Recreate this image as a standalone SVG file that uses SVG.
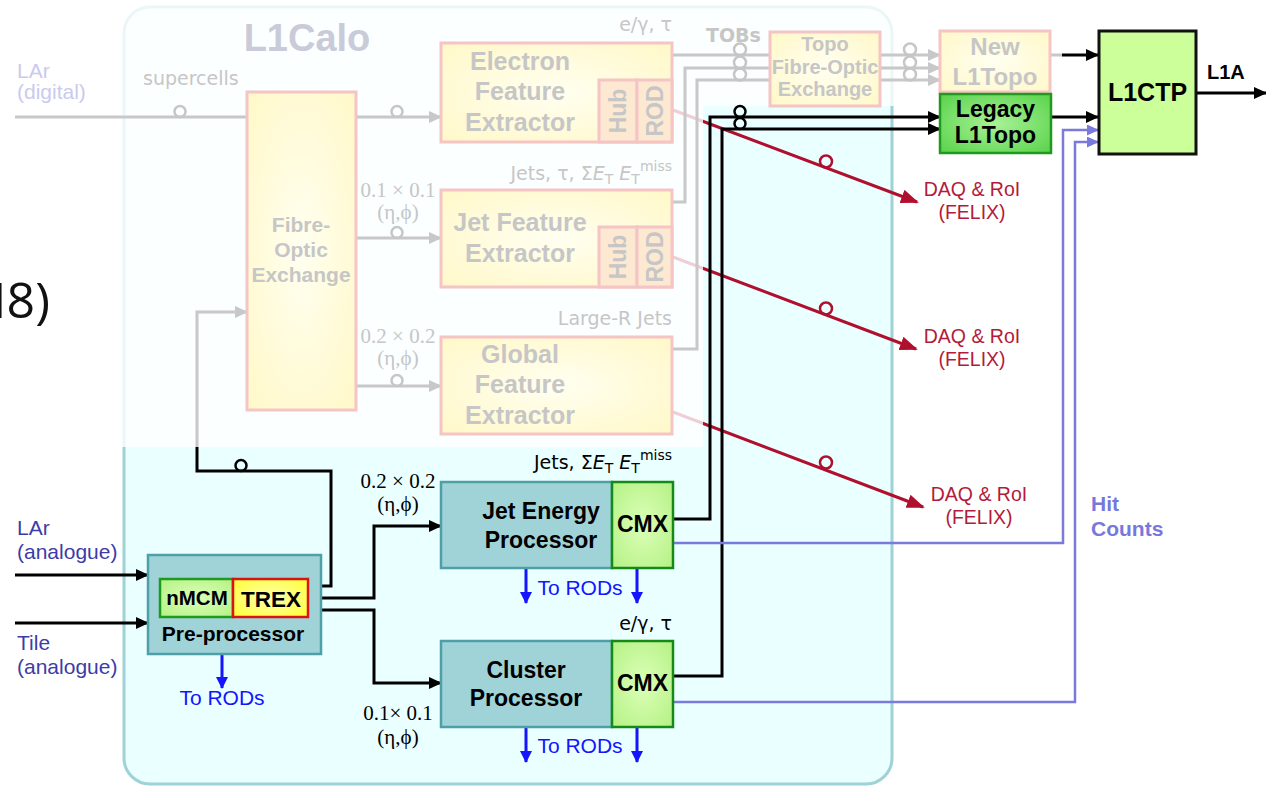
<svg xmlns="http://www.w3.org/2000/svg" width="1266" height="786" viewBox="0 0 1266 786">
<defs>
<style>
.b{font-family:"Liberation Sans",Arial,sans-serif;font-weight:bold}
.r{font-family:"Liberation Sans",Arial,sans-serif}
.d{font-family:"DejaVu Sans",sans-serif}
.s{font-family:"Liberation Serif","Times New Roman",serif}
.ft{fill:#c6c6c6}
.fbox{fill:url(#gy);stroke:#f5c4c4;stroke-width:3}
.fsub{fill:#fde9d2;stroke:#f5c4c4;stroke-width:3}
.gl{fill:none;stroke:#c8c8c8;stroke-width:3}
.gc{fill:none;stroke:#c6c6c6;stroke-width:2.5}
.k{fill:none;stroke:#000;stroke-width:3}
.kc{fill:none;stroke:#000;stroke-width:2.5}
.red{fill:none;stroke:#b0102e;stroke-width:3}
.redc{fill:none;stroke:#b0102e;stroke-width:2.5}
.pur{fill:none;stroke:#7a7adc;stroke-width:2.5}
.blu{fill:none;stroke:#1414ff;stroke-width:3}
.proc{fill:#a0d3d8;stroke:#4e9fa7;stroke-width:2.5}
.cmx{fill:url(#gc);stroke:#168a16;stroke-width:2.5}
.daq{fill:#b31b3b}
</style>
<radialGradient id="gy" cx="0.5" cy="0.5" r="0.7"><stop offset="0" stop-color="#fffff0"/><stop offset="1" stop-color="#fff8c8"/></radialGradient>
<radialGradient id="gc" cx="0.5" cy="0.5" r="0.7"><stop offset="0" stop-color="#dcffb8"/><stop offset="1" stop-color="#b4f184"/></radialGradient>
<radialGradient id="gl" cx="0.5" cy="0.5" r="0.7"><stop offset="0" stop-color="#a8f296"/><stop offset="1" stop-color="#58d24a"/></radialGradient>
<radialGradient id="gt" cx="0.5" cy="0.5" r="0.7"><stop offset="0" stop-color="#ffffb0"/><stop offset="1" stop-color="#ffff33"/></radialGradient>
<marker id="ak" markerUnits="userSpaceOnUse" markerWidth="13" markerHeight="12" refX="12" refY="6" orient="auto"><path d="M0,0 L13,6 L0,12 z" fill="#000"/></marker>
<marker id="ag" markerUnits="userSpaceOnUse" markerWidth="13" markerHeight="12" refX="12" refY="6" orient="auto"><path d="M0,0 L13,6 L0,12 z" fill="#c8c8c8"/></marker>
<marker id="ar" markerUnits="userSpaceOnUse" markerWidth="18" markerHeight="14" refX="16" refY="7" orient="auto"><path d="M0,0 L18,7 L0,14 z" fill="#b0102e"/></marker>
<marker id="ap" markerUnits="userSpaceOnUse" markerWidth="12" markerHeight="11" refX="11" refY="5.5" orient="auto"><path d="M0,0 L12,5.5 L0,11 z" fill="#7a7adc"/></marker>
<marker id="ab" markerUnits="userSpaceOnUse" markerWidth="12" markerHeight="12" refX="11" refY="6" orient="auto"><path d="M0,0 L12,6 L0,12 z" fill="#1414ff"/></marker>
</defs>

<text x="-16" y="318" font-family="'Open Sans',sans-serif" font-size="50" fill="#111"><tspan letter-spacing="-6">1</tspan>8)</text>

<g id="l1calo-frame">
<rect x="124" y="7" width="768" height="777" rx="26" fill="#eaffff" stroke="#9ed2d6" stroke-width="3"/>
</g>

<g id="connectors-under">
<path class="red" d="M673 110 L917 202" marker-end="url(#ar)"/>
<path class="red" d="M673 257 L916 349" marker-end="url(#ar)"/>
<path class="red" d="M673 412 L923 507" marker-end="url(#ar)"/>
</g>

<path id="fade-overlay" d="M110 0 H905 V106 H703 V447 H110 Z" fill="#ffffff" fill-opacity="0.8"/>

<g id="faded-connectors">
<path class="gl" d="M15 117 H247"/>
<path class="gl" d="M356 117 H441" marker-end="url(#ag)"/>
<path class="gl" d="M356 238 H441" marker-end="url(#ag)"/>
<path class="gl" d="M356 386 H441" marker-end="url(#ag)"/>
<path class="gl" d="M197 447 V312 H247" marker-end="url(#ag)"/>
<path class="gl" d="M672 55 H770"/>
<path class="gl" d="M672 202 H685 V68 H770"/>
<path class="gl" d="M672 349 H697 V80 H770"/>
<path class="gl" d="M880 55 H940" marker-end="url(#ag)"/>
<path class="gl" d="M880 68 H940" marker-end="url(#ag)"/>
<path class="gl" d="M880 80 H940" marker-end="url(#ag)"/>
<path class="gl" d="M1050 55 H1062"/>
<circle class="gc" cx="180" cy="111.5" r="5.5"/>
<circle class="gc" cx="397" cy="111.5" r="5.5"/>
<circle class="gc" cx="397" cy="232.5" r="5.5"/>
<circle class="gc" cx="397" cy="380.5" r="5.5"/>
<circle class="gc" cx="740" cy="49.5" r="6"/>
<circle class="gc" cx="740" cy="62.5" r="6"/>
<circle class="gc" cx="740" cy="74.5" r="6"/>
<circle class="gc" cx="910" cy="49.5" r="6"/>
<circle class="gc" cx="910" cy="62.5" r="6"/>
<circle class="gc" cx="910" cy="74.5" r="6"/>
</g>

<g id="faded-labels">
<text class="b" x="307" y="51" font-size="38" fill="#cacbd8" text-anchor="middle">L1Calo</text>
<text class="r" x="17" y="78" font-size="21" fill="#cacaee">LAr</text>
<text class="r" x="17" y="99" font-size="21" fill="#cacaee">(digital)</text>
<text class="d ft" x="143" y="85" font-size="19">supercells</text>
<text class="s ft" x="398" y="197" font-size="21" text-anchor="middle">0.1 × 0.1</text>
<text class="s ft" x="398" y="219" font-size="21" text-anchor="middle">(η,ϕ)</text>
<text class="s ft" x="398" y="343" font-size="21" text-anchor="middle">0.2 × 0.2</text>
<text class="s ft" x="398" y="365" font-size="21" text-anchor="middle">(η,ϕ)</text>
<text class="d ft" x="672" y="31" font-size="19" text-anchor="end">e/γ, τ</text>
<text class="d ft" x="672" y="180" font-size="19" text-anchor="end">Jets, τ, Σ<tspan font-style="italic">E</tspan><tspan font-size="14" dy="4">T</tspan><tspan dy="-4"> </tspan><tspan font-style="italic">E</tspan><tspan font-size="14" dy="4">T</tspan><tspan font-size="14" dy="-13">miss</tspan></text>
<text class="d ft" x="672" y="325" font-size="19" text-anchor="end">Large-R Jets</text>
<text class="d ft" x="706" y="42" font-size="19" font-weight="bold">TOBs</text>
</g>

<g id="fibre-optic-exchange">
<rect class="fbox" x="247" y="92" width="109" height="318"/>
<text class="b ft" x="301" y="232" font-size="21" text-anchor="middle">Fibre-</text>
<text class="b ft" x="301" y="257" font-size="21" text-anchor="middle">Optic</text>
<text class="b ft" x="301" y="282" font-size="21" text-anchor="middle">Exchange</text>
</g>

<g id="electron-feature-extractor">
<rect class="fbox" x="441" y="43" width="231" height="99"/>
<rect class="fsub" x="599" y="80" width="38" height="62"/>
<rect class="fsub" x="637" y="80" width="35" height="62"/>
<text class="b ft" x="520" y="70" font-size="25" text-anchor="middle">Electron</text>
<text class="b ft" x="520" y="100" font-size="25" text-anchor="middle">Feature</text>
<text class="b ft" x="520" y="131" font-size="25" text-anchor="middle">Extractor</text>
<text class="b ft" font-size="23" text-anchor="middle" transform="translate(626,111) rotate(-90)">Hub</text>
<text class="b ft" font-size="23" text-anchor="middle" transform="translate(663,111) rotate(-90)">ROD</text>
</g>

<g id="jet-feature-extractor">
<rect class="fbox" x="441" y="190" width="231" height="97"/>
<rect class="fsub" x="599" y="227" width="38" height="60"/>
<rect class="fsub" x="637" y="227" width="35" height="60"/>
<text class="b ft" x="520" y="231" font-size="25" text-anchor="middle">Jet Feature</text>
<text class="b ft" x="520" y="262" font-size="25" text-anchor="middle">Extractor</text>
<text class="b ft" font-size="23" text-anchor="middle" transform="translate(626,257) rotate(-90)">Hub</text>
<text class="b ft" font-size="23" text-anchor="middle" transform="translate(663,257) rotate(-90)">ROD</text>
</g>

<g id="global-feature-extractor">
<rect class="fbox" x="441" y="337" width="231" height="97"/>
<text class="b ft" x="520" y="363" font-size="25" text-anchor="middle">Global</text>
<text class="b ft" x="520" y="393" font-size="25" text-anchor="middle">Feature</text>
<text class="b ft" x="520" y="424" font-size="25" text-anchor="middle">Extractor</text>
</g>

<g id="topo-fibre-optic-exchange">
<rect class="fbox" x="770" y="32" width="110" height="74"/>
<text class="b ft" x="825" y="51" font-size="20" text-anchor="middle">Topo</text>
<text class="b ft" x="825" y="74" font-size="20" text-anchor="middle">Fibre-Optic</text>
<text class="b ft" x="825" y="96" font-size="20" text-anchor="middle">Exchange</text>
</g>

<g id="new-l1topo">
<rect class="fbox" x="940" y="31" width="110" height="61"/>
<text class="b ft" x="995" y="55" font-size="24" text-anchor="middle">New</text>
<text class="b ft" x="995" y="85" font-size="24" text-anchor="middle">L1Topo</text>
</g>

<g id="connectors">
<path class="k" d="M1062 55 H1098" marker-end="url(#ak)"/>
<path class="k" d="M1051 117 H1098" marker-end="url(#ak)"/>
<path class="k" d="M1196 93 H1266" marker-end="url(#ak)"/>
<path class="k" d="M673 519 H710 V117 H940" marker-end="url(#ak)"/>
<path class="k" d="M673 676 H722 V129 H940" marker-end="url(#ak)"/>
<circle class="kc" cx="740" cy="111.5" r="5.5"/>
<circle class="kc" cx="740" cy="123.5" r="5.5"/>
<path class="pur" d="M673 543 H1063 V130 H1098" marker-end="url(#ap)"/>
<path class="pur" d="M673 702 H1075 V142 H1098" marker-end="url(#ap)"/>
<circle class="redc" cx="826" cy="161.5" r="6"/>
<circle class="redc" cx="826" cy="308.5" r="6"/>
<circle class="redc" cx="826" cy="462.5" r="6"/>
<path class="k" d="M15 575 H148" marker-end="url(#ak)"/>
<path class="k" d="M15 623 H148" marker-end="url(#ak)"/>
<path class="k" d="M308 586 H331 V471 H197 V447"/>
<circle class="kc" cx="241" cy="465.5" r="5.5"/>
<path class="k" d="M308 598 H374 V526 H441" marker-end="url(#ak)"/>
<path class="k" d="M308 610 H374 V683 H441" marker-end="url(#ak)"/>
<path class="blu" d="M222 650 V688" marker-end="url(#ab)"/>
<path class="blu" d="M526 568 V603" marker-end="url(#ab)"/>
<path class="blu" d="M637 568 V603" marker-end="url(#ab)"/>
<path class="blu" d="M526 727 V762" marker-end="url(#ab)"/>
<path class="blu" d="M637 727 V762" marker-end="url(#ab)"/>
</g>

<g id="legacy-l1topo">
<rect x="940" y="94" width="111" height="59" fill="url(#gl)" stroke="#1f9a1f" stroke-width="2.5"/>
<text class="b" x="995.5" y="117" font-size="23" text-anchor="middle">Legacy</text>
<text class="b" x="995.5" y="143" font-size="23" text-anchor="middle">L1Topo</text>
</g>

<g id="l1ctp">
<rect x="1099" y="31" width="97" height="123" fill="#ccff99" stroke="#111" stroke-width="3"/>
<text class="b" x="1147.5" y="101" font-size="25" text-anchor="middle">L1CTP</text>
<text class="b" x="1207" y="79" font-size="20">L1A</text>
</g>

<g id="daq-labels">
<text class="r daq" x="972" y="196" font-size="19.5" text-anchor="middle">DAQ &amp; RoI</text>
<text class="r daq" x="972" y="219" font-size="19.5" text-anchor="middle">(FELIX)</text>
<text class="r daq" x="972" y="343" font-size="19.5" text-anchor="middle">DAQ &amp; RoI</text>
<text class="r daq" x="972" y="366" font-size="19.5" text-anchor="middle">(FELIX)</text>
<text class="r daq" x="979" y="501" font-size="19.5" text-anchor="middle">DAQ &amp; RoI</text>
<text class="r daq" x="979" y="524" font-size="19.5" text-anchor="middle">(FELIX)</text>
<text class="b" x="1091" y="511" font-size="21" fill="#7878dc">Hit</text>
<text class="b" x="1091" y="536" font-size="21" fill="#7878dc">Counts</text>
</g>

<g id="inputs">
<text class="r" x="17" y="535" font-size="21" fill="#3c3ca8">LAr</text>
<text class="r" x="17" y="559" font-size="21" fill="#3c3ca8">(analogue)</text>
<text class="r" x="17" y="650" font-size="21" fill="#3c3ca8">Tile</text>
<text class="r" x="17" y="674" font-size="21" fill="#3c3ca8">(analogue)</text>
<text class="s" x="398" y="488" font-size="21" text-anchor="middle">0.2 × 0.2</text>
<text class="s" x="398" y="511" font-size="21" text-anchor="middle">(η,ϕ)</text>
<text class="s" x="398" y="720" font-size="21" text-anchor="middle">0.1× 0.1</text>
<text class="s" x="398" y="744" font-size="21" text-anchor="middle">(η,ϕ)</text>
</g>

<g id="pre-processor">
<rect class="proc" x="148" y="555" width="173" height="99"/>
<rect x="160" y="579" width="73" height="38" fill="url(#gc)" stroke="#1f9a1f" stroke-width="2.5"/>
<rect x="233" y="579" width="75" height="38" fill="url(#gt)" stroke="#d81414" stroke-width="2.5"/>
<text class="b" x="197" y="605" font-size="20.5" text-anchor="middle">nMCM</text>
<text class="b" x="271" y="607" font-size="22.5" text-anchor="middle">TREX</text>
<text class="b" x="233" y="641" font-size="21" text-anchor="middle">Pre-processor</text>
<text class="r" x="222" y="705" font-size="21" fill="#1414ff" text-anchor="middle">To RODs</text>
</g>

<g id="jet-energy-processor">
<rect class="proc" x="441" y="482" width="171" height="86"/>
<rect class="cmx" x="612" y="482" width="61" height="86"/>
<text class="b" x="541" y="519" font-size="23" text-anchor="middle">Jet Energy</text>
<text class="b" x="541" y="548" font-size="23" text-anchor="middle">Processor</text>
<text class="b" x="642.5" y="532" font-size="23" text-anchor="middle">CMX</text>
<text class="d" x="672" y="469" font-size="19" text-anchor="end">Jets, Σ<tspan font-style="italic">E</tspan><tspan font-size="14" dy="4">T</tspan><tspan dy="-4"> </tspan><tspan font-style="italic">E</tspan><tspan font-size="14" dy="4">T</tspan><tspan font-size="14" dy="-13">miss</tspan></text>
<text class="r" x="580" y="595" font-size="21" fill="#1414ff" text-anchor="middle">To RODs</text>
</g>

<g id="cluster-processor">
<rect class="proc" x="441" y="641" width="171" height="86"/>
<rect class="cmx" x="612" y="641" width="61" height="86"/>
<text class="b" x="526" y="678" font-size="23" text-anchor="middle">Cluster</text>
<text class="b" x="526" y="706" font-size="23" text-anchor="middle">Processor</text>
<text class="b" x="642.5" y="691" font-size="23" text-anchor="middle">CMX</text>
<text class="d" x="672" y="630" font-size="19" text-anchor="end">e/γ, τ</text>
<text class="r" x="580" y="753" font-size="21" fill="#1414ff" text-anchor="middle">To RODs</text>
</g>
</svg>
